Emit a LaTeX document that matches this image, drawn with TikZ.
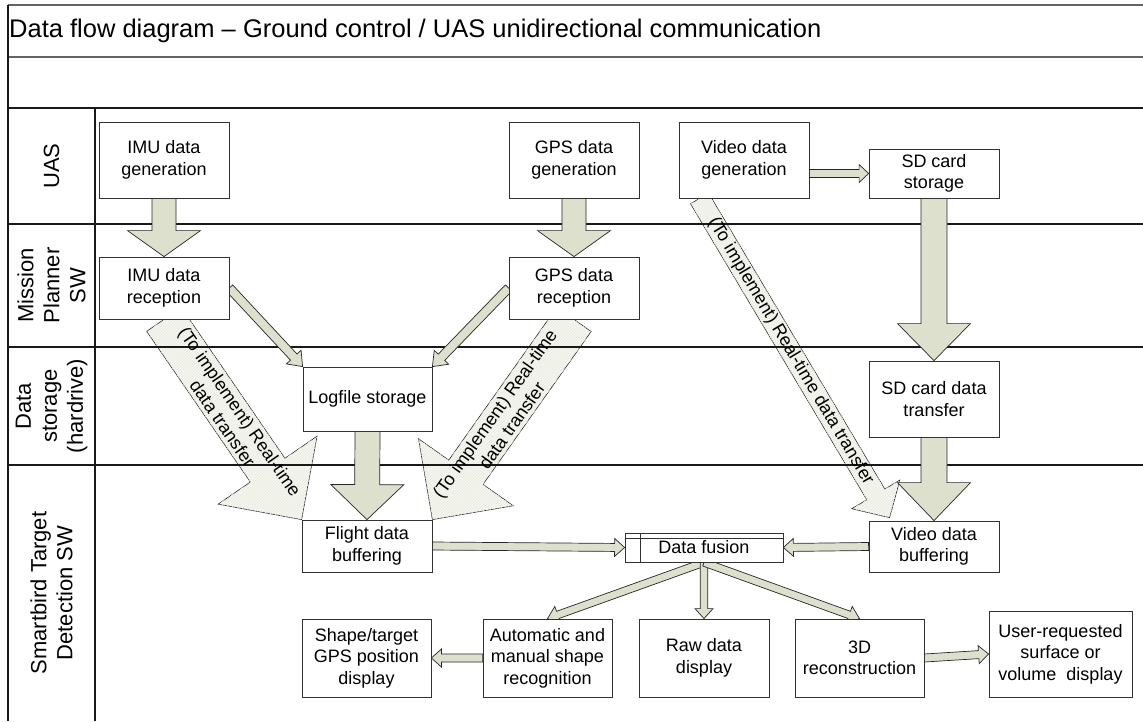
\documentclass[tikz,border=0pt]{standalone}
\usepackage{fontspec}
\setmainfont{Liberation Sans}
\usetikzlibrary{calc,patterns}

\definecolor{arrowfill}{RGB}{220,224,204}
\definecolor{hatchfill}{RGB}{246,246,240}
\definecolor{hatchline}{RGB}{232,234,223}
\definecolor{boxline}{RGB}{50,50,50}
\definecolor{titleline}{RGB}{100,100,100}

\pgfdeclarelayer{hatchlayer}
\pgfdeclarelayer{lanelayer}
\pgfdeclarelayer{arrowlayer}
\pgfsetlayers{hatchlayer,lanelayer,arrowlayer,main}

% #1 style, #2 start, #3 tip, #4 shaft half width, #5 head half width, #6 head length
\newcommand\blockarrow[6]{%
  \coordinate (bah) at ($(#3)!#6!(#2)$);
  \draw[#1] ($(#2)!#4!90:(#3)$) -- ($(bah)!#4!-90:(#2)$) -- ($(bah)!#5!-90:(#2)$)
    -- (#3) -- ($(bah)!#5!90:(#2)$) -- ($(bah)!#4!90:(#2)$) -- ($(#2)!#4!-90:(#3)$) -- cycle;}

\tikzset{
  box/.style={draw=boxline, line width=0.8pt, fill=white, inner sep=0pt, align=center,
    font=\fontsize{18}{21.5}\selectfont},
  lanetext/.style={rotate=90, align=center, inner sep=0pt, font=\fontsize{22}{26}\selectfont},
  hatchtext/.style={align=center, inner sep=0pt, font=\fontsize{18}{21}\selectfont},
  solidarrow/.style={fill=arrowfill, draw=black!85, line width=0.7pt, line join=miter},
  hatcharrow/.style={fill=hatchfill, postaction={pattern=north east lines, pattern color=hatchline},
    draw=black!85, line width=0.6pt, line join=miter},
  laneline/.style={draw=black!90, line width=1.1pt},
  frameline/.style={draw=titleline, line width=1.4pt}
}

\begin{document}
\begin{tikzpicture}[x=1pt,y=-1pt]
\useasboundingbox (0,0) rectangle (1143,721);

% ---------- boxes ----------
\node[box, minimum width=130, minimum height=76] (imugen) at (164,160) {IMU data\\generation};
\node[box, minimum width=130, minimum height=76] (gpsgen) at (574,160) {GPS data\\generation};
\node[box, minimum width=130, minimum height=76] (vgen) at (744,160) {Video data\\generation};
\node[box, minimum width=130, minimum height=49] (sd) at (934,173.5) {SD card\\storage};
\node[box, minimum width=130, minimum height=62] (imurec) at (164,288) {IMU data\\reception};
\node[box, minimum width=130, minimum height=62] (gpsrec) at (574,288) {GPS data\\reception};
\node[box, minimum width=129, minimum height=64] (log) at (367.5,399) {Logfile storage};
\node[box, minimum width=130, minimum height=76] (sdt) at (934,399) {SD card data\\transfer};
\node[box, minimum width=130, minimum height=52] (flight) at (367,546) {Flight data\\buffering};
\node[box, minimum width=130, minimum height=51] (vbuf) at (934,546.5) {Video data\\buffering};
\node[box, minimum width=158, minimum height=29] (fusion) at (704,547.5) {Data fusion};
\node[box, minimum width=129, minimum height=78] (shape) at (366.5,658) {Shape/target\\GPS position\\display};
\node[box, minimum width=129, minimum height=78] (auto) at (547.5,658) {Automatic and\\manual shape\\recognition};
\node[box, minimum width=130, minimum height=78] (raw) at (704,658) {Raw data\\display};
\node[box, minimum width=129, minimum height=78] (recon) at (859.5,658) {3D\\reconstruction};
\node[box, minimum width=143, minimum height=86] (user) at (1060.5,654) {User-requested\\surface or\\volume\ \ display};
\draw[draw=boxline, line width=0.8pt] ($(fusion.north west)+(16,0)$) -- ($(fusion.south west)+(16,0)$);
\draw[draw=boxline, line width=0.8pt] ($(fusion.north west)+(0,6)$) -- ($(fusion.north east)+(0,6)$);

\coordinate (vstart) at ($(vgen.south west)!0.16!(vgen.south east)$);
\coordinate (vtip) at ($(vbuf.north west)+(21,-3)$);

% ---------- hatched (to implement) arrows ----------
\begin{pgfonlayer}{hatchlayer}
\blockarrow{hatcharrow}{imurec.south}{flight.north west}{21pt}{60pt}{60pt}
\blockarrow{hatcharrow}{gpsrec.south}{flight.north east}{21pt}{58pt}{58pt}
\blockarrow{hatcharrow}{vstart}{vtip}{10.5pt}{28pt}{27pt}
\end{pgfonlayer}

\node[hatchtext, rotate=-55.5] (ht1) at ($(imurec.south)!0.49!(flight.north west)$)
  {(To implement) Real-time\\data transfer};
\node[hatchtext, rotate=54.8] (ht2) at ($(gpsrec.south)!0.50!(flight.north east)$)
  {(To implement) Real-time\\data transfer};
\node[hatchtext, rotate=-59.3] (ht3) at ($(vstart)!0.48!(vtip)$)
  {(To implement) Real-time data transfer};

% ---------- frame and lanes ----------
\begin{pgfonlayer}{lanelayer}
\draw[frameline] (8,5) -- (1143,5);
\draw[frameline] (8,57) -- (1143,57);
\draw[laneline] (8,108) -- (1143,108);
\draw[laneline] (8,224) -- (1143,224);
\draw[laneline] (8,347) -- (1143,347);
\draw[laneline] (8,465) -- (1143,465);
\draw[laneline] (8,5) -- (8,721);
\draw[laneline] (95,108) -- (95,721);
\end{pgfonlayer}

\node[anchor=west, inner sep=0pt, font=\fontsize{25.5}{30}\selectfont] (title) at (9,31)
  {Data flow diagram – Ground control / UAS unidirectional communication};

\node[lanetext] (lane1) at (51.5,166) {UAS};
\node[lanetext] (lane2) at (51.5,285.5) {Mission\\Planner\\SW};
\node[lanetext] (lane3) at (51.5,406) {Data\\storage\\(hardrive)};
\node[lanetext] (lane4) at (51.5,593) {Smartbird Target\\Detection SW};

% ---------- solid arrows ----------
\begin{pgfonlayer}{arrowlayer}
\blockarrow{solidarrow}{imugen.south}{imurec.north}{12pt}{36.5pt}{26pt}
\blockarrow{solidarrow}{gpsgen.south}{gpsrec.north}{12pt}{36.5pt}{26pt}
\blockarrow{solidarrow}{log.south}{flight.north}{12.5pt}{36.5pt}{35pt}
\blockarrow{solidarrow}{sd.south}{sdt.north}{13pt}{36.5pt}{37pt}
\blockarrow{solidarrow}{sdt.south}{vbuf.north}{13pt}{36.5pt}{38pt}

\blockarrow{solidarrow}{imurec.east}{log.north west}{4.5pt}{10pt}{13pt}
\blockarrow{solidarrow}{gpsrec.west}{log.north east}{4.5pt}{10pt}{13pt}
\blockarrow{solidarrow}{vgen.east |- sd.west}{sd.west}{4pt}{9pt}{9.5pt}
\blockarrow{solidarrow}{flight.east}{fusion.west}{4pt}{9pt}{10pt}
\blockarrow{solidarrow}{vbuf.west}{fusion.east}{4pt}{9pt}{10pt}
\blockarrow{solidarrow}{fusion.south}{auto.north}{3.8pt}{9pt}{11pt}
\blockarrow{solidarrow}{fusion.south}{raw.north}{3.8pt}{9pt}{10pt}
\blockarrow{solidarrow}{fusion.south}{recon.north}{3.8pt}{9pt}{11pt}
\blockarrow{solidarrow}{auto.west}{shape.east}{4pt}{9pt}{10pt}
\blockarrow{solidarrow}{recon.east}{user.west}{4pt}{9pt}{10pt}
\end{pgfonlayer}
\end{tikzpicture}
\end{document}
